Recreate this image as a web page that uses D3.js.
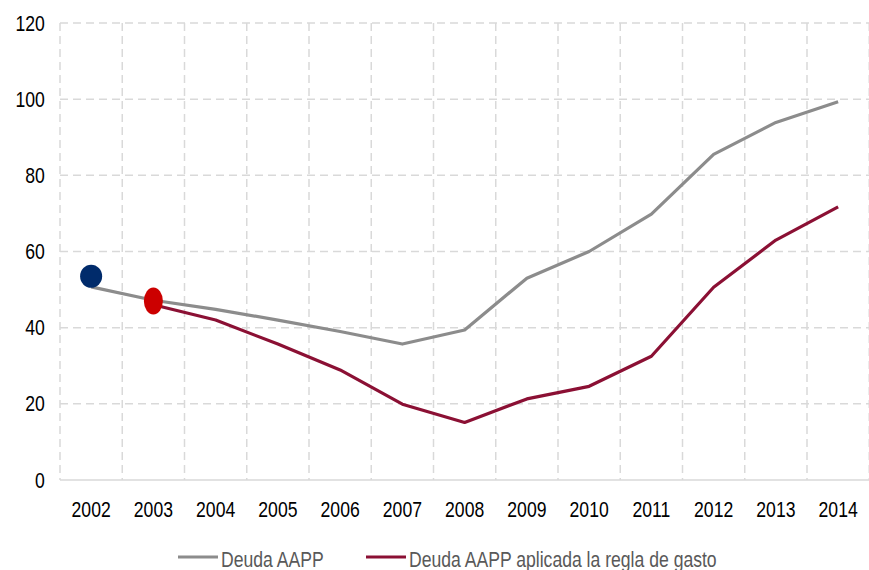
<!DOCTYPE html>
<html>
<head>
<meta charset="utf-8">
<script src="https://cdn.jsdelivr.net/npm/d3@7"></script>
<style>
  body { margin: 0; background: #fff; }
  svg { display: block; font-family: "Liberation Sans", Arial, sans-serif; }
</style>
</head>
<body>
<svg id="chart" width="869" height="570"></svg>
<script>
// data
const years = ["2002","2003","2004","2005","2006","2007","2008","2009","2010","2011","2012","2013","2014"];
const deudaAAPP = [50.7, 47.2, 44.8, 42, 39, 35.7, 39.4, 53, 60, 69.8, 85.5, 93.9, 99.3];
const deudaRegla = [null, 46, 42, 35.7, 28.9, 19.9, 15.1, 21.3, 24.6, 32.5, 50.6, 63, 71.7];
const yTicks = [0, 20, 40, 60, 80, 100, 120];
const markerBlue = { year: "2002", value: 53.5 };
const markerRed = { year: "2003", value: 47 };
const legendLabels = ["Deuda AAPP", "Deuda AAPP aplicada la regla de gasto"];

const svg = d3.select("#chart");
const plotLeft = 60, plotRight = 869.25, plotTop = 23, plotBottom = 480;
const squeeze = 0.8; // labels in the picture are narrow

const x = d3.scaleBand().domain(years).range([plotLeft, plotRight]).padding(0);
const y = d3.scaleLinear().domain([0, 120]).range([plotBottom, plotTop]);
const cx = d => x(d) + x.bandwidth() / 2;

// --------------------------------------------------
// GRID
// --------------------------------------------------
const grid = svg.append("g").attr("class", "grid");

grid.selectAll("line.h")
  .data(yTicks.filter(d => d > 0))
  .enter().append("line")
  .attr("class", "h")
  .attr("x1", plotLeft).attr("x2", plotRight)
  .attr("y1", d => y(d)).attr("y2", d => y(d))
  .attr("stroke", "#d9d9d9").attr("stroke-width", 1.5)
  .attr("stroke-dasharray", "8,5");

const bounds = years.map(d => x(d)).concat([plotRight]);
grid.selectAll("line.v")
  .data(bounds)
  .enter().append("line")
  .attr("class", "v")
  .attr("x1", d => d).attr("x2", d => d)
  .attr("y1", y(120)).attr("y2", y(0))
  .attr("stroke", "#d9d9d9").attr("stroke-width", 1.5)
  .attr("stroke-dasharray", "8,5");

grid.append("line")
  .attr("x1", plotLeft).attr("x2", plotRight)
  .attr("y1", y(0)).attr("y2", y(0))
  .attr("stroke", "#d9d9d9").attr("stroke-width", 1.5);

// --------------------------------------------------
// AXES
// --------------------------------------------------
const yAxis = svg.append("g")
  .attr("transform", `translate(${plotLeft},0)`)
  .call(d3.axisLeft(y).tickValues(yTicks).tickSize(0).tickPadding(19));
yAxis.select(".domain").remove();
yAxis.selectAll("text")
  .attr("font-size", 22).attr("fill", "#000")
  .attr("font-family", "Liberation Sans, Arial, sans-serif")
  .attr("transform", `scale(${squeeze},1)`);

const xAxis = svg.append("g")
  .attr("transform", `translate(0,${plotBottom})`)
  .call(d3.axisBottom(x).tickSize(0).tickPadding(21));
xAxis.select(".domain").remove();
xAxis.selectAll("text")
  .attr("font-size", 22).attr("fill", "#000")
  .attr("font-family", "Liberation Sans, Arial, sans-serif")
  .attr("transform", `scale(${squeeze},1)`);

// --------------------------------------------------
// LINES
// --------------------------------------------------
const line = d3.line()
  .defined(d => d.v !== null)
  .x(d => cx(d.year))
  .y(d => y(d.v));

svg.append("path")
  .datum(years.map((yr, i) => ({ year: yr, v: deudaAAPP[i] })))
  .attr("fill", "none")
  .attr("stroke", "#8c8c8c")
  .attr("stroke-width", 3.2)
  .attr("stroke-linejoin", "round")
  .attr("d", line);

svg.append("path")
  .datum(years.map((yr, i) => ({ year: yr, v: deudaRegla[i] })))
  .attr("fill", "none")
  .attr("stroke", "#8b1034")
  .attr("stroke-width", 3.2)
  .attr("stroke-linejoin", "round")
  .attr("d", line);

// markers
svg.append("ellipse")
  .attr("cx", cx(markerBlue.year)).attr("cy", y(markerBlue.value))
  .attr("rx", 11).attr("ry", 11.5)
  .attr("fill", "#002b6b");

svg.append("ellipse")
  .attr("cx", cx(markerRed.year)).attr("cy", y(markerRed.value))
  .attr("rx", 9.5).attr("ry", 13.5)
  .attr("fill", "#cc0000");

// --------------------------------------------------
// LEGEND
// --------------------------------------------------
const legendItems = [
  { label: legendLabels[0], color: "#8c8c8c", x: 178 },
  { label: legendLabels[1], color: "#8b1034", x: 366 }
];

const legend = svg.append("g").attr("class", "legend");
legendItems.forEach(d => {
  const g = legend.append("g").attr("transform", `translate(${d.x},557)`);
  g.append("line")
    .attr("x1", 0).attr("x2", 40)
    .attr("stroke", d.color).attr("stroke-width", 3.2);
  g.append("text")
    .attr("transform", `translate(43,10) scale(${squeeze},1)`)
    .attr("font-size", 22)
    .attr("fill", "#595959")
    .text(d.label);
});
</script>
</body>
</html>
